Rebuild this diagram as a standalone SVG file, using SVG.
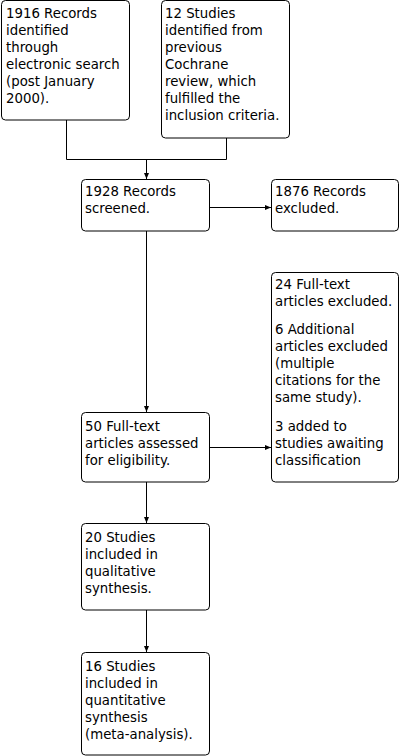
<svg xmlns="http://www.w3.org/2000/svg" width="400" height="756" viewBox="0 0 400 756">
<style>
.box{fill:#fff;stroke:#000;stroke-width:1}
.t{font-family:"DejaVu Sans","Liberation Sans",sans-serif;font-size:13.3px;fill:#000}
.c{fill:none;stroke:#000;stroke-width:1}
</style>
<defs>
<marker id="ah" markerWidth="6" markerHeight="6" refX="6" refY="3" orient="auto" markerUnits="userSpaceOnUse">
<path d="M0,0.5 L6,3 L0,5.5 Z" fill="#000"/>
</marker>
</defs>
<rect width="400" height="756" fill="#fff"/>
<g id="connectors">
<path class="c" d="M66.5,120 V159.5 H226.5 V138"/>
<path class="c" d="M146.5,159.5 V179" marker-end="url(#ah)"/>
<path class="c" d="M209,207.5 H271" marker-end="url(#ah)"/>
<path class="c" d="M146.5,231 V412" marker-end="url(#ah)"/>
<path class="c" d="M209,447.5 H271" marker-end="url(#ah)"/>
<path class="c" d="M146.5,482 V523" marker-end="url(#ah)"/>
<path class="c" d="M146.5,610 V652" marker-end="url(#ah)"/>
</g>
<g id="n1">
<rect class="box" x="1.5" y="0.5" width="128" height="119.5" rx="4"/>
<text class="t" x="6" y="18">1916 Records</text>
<text class="t" x="6" y="35">identified</text>
<text class="t" x="6" y="52">through</text>
<text class="t" x="6" y="69">electronic search</text>
<text class="t" x="6" y="86">(post January</text>
<text class="t" x="6" y="103">2000).</text>
</g>
<g id="n2">
<rect class="box" x="161.5" y="0.5" width="128" height="137.5" rx="4"/>
<text class="t" x="165" y="18">12 Studies</text>
<text class="t" x="165" y="35">identified from</text>
<text class="t" x="165" y="52">previous</text>
<text class="t" x="165" y="69">Cochrane</text>
<text class="t" x="165" y="86">review, which</text>
<text class="t" x="165" y="103">fulfilled the</text>
<text class="t" x="165" y="120">inclusion criteria.</text>
</g>
<g id="n3">
<rect class="box" x="81.5" y="179.5" width="128" height="51.5" rx="4"/>
<text class="t" x="85" y="196">1928 Records</text>
<text class="t" x="85" y="213">screened.</text>
</g>
<g id="n4">
<rect class="box" x="271.5" y="179.5" width="127" height="51.5" rx="4"/>
<text class="t" x="275" y="196">1876 Records</text>
<text class="t" x="275" y="213">excluded.</text>
</g>
<g id="n5">
<rect class="box" x="271.5" y="272.5" width="127" height="209.5" rx="4"/>
<text class="t" x="275" y="289">24 Full-text</text>
<text class="t" x="275" y="306">articles excluded.</text>
<text class="t" x="275" y="334">6 Additional</text>
<text class="t" x="275" y="351">articles excluded</text>
<text class="t" x="275" y="368">(multiple</text>
<text class="t" x="275" y="385">citations for the</text>
<text class="t" x="275" y="402">same study).</text>
<text class="t" x="275" y="431">3 added to</text>
<text class="t" x="275" y="448">studies awaiting</text>
<text class="t" x="275" y="465">classification</text>
</g>
<g id="n6">
<rect class="box" x="81.5" y="412.5" width="128" height="69.5" rx="4"/>
<text class="t" x="85" y="431">50 Full-text</text>
<text class="t" x="85" y="448">articles assessed</text>
<text class="t" x="85" y="465">for eligibility.</text>
</g>
<g id="n7">
<rect class="box" x="81.5" y="523.5" width="128" height="86.5" rx="4"/>
<text class="t" x="85" y="542">20 Studies</text>
<text class="t" x="85" y="559">included in</text>
<text class="t" x="85" y="576">qualitative</text>
<text class="t" x="85" y="593">synthesis.</text>
</g>
<g id="n8">
<rect class="box" x="81.5" y="652.5" width="128" height="102.5" rx="4"/>
<text class="t" x="85" y="671">16 Studies</text>
<text class="t" x="85" y="688">included in</text>
<text class="t" x="85" y="705">quantitative</text>
<text class="t" x="85" y="722">synthesis</text>
<text class="t" x="85" y="739">(meta-analysis).</text>
</g>
</svg>
